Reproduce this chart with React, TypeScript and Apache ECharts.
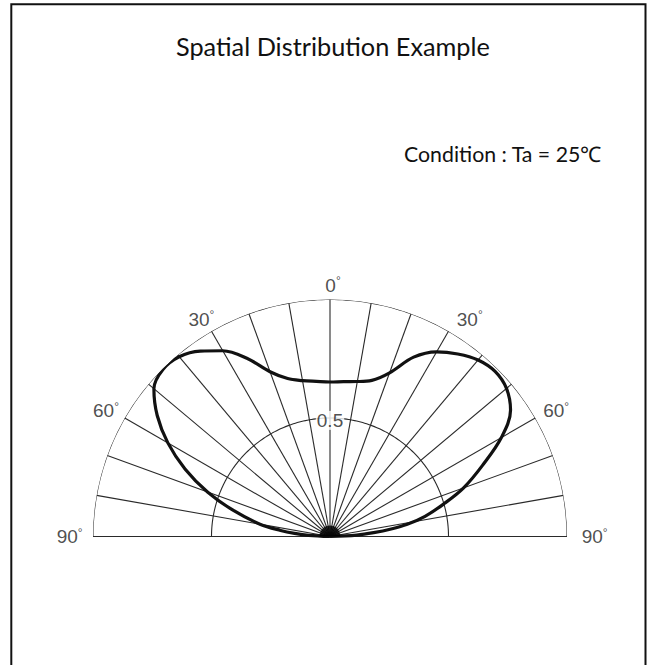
import React, { useEffect, useRef } from "react";
import * as echarts from "echarts";

// Relative luminous intensity vs. angle (degrees from axis; negative = left side)
const curveAngles = [
  -90, -87, -85, -83, -80, -75, -70, -65, -60, -55, -50, -45, -40, -35, -30, -25, -20, -15, -10, -5,
  0,
  5, 10, 15, 20, 25, 30, 35, 40, 45, 50, 55, 60, 65, 70, 74, 78, 81, 83, 85, 87, 90,
];
const curveIntensity = [
  0, 0.09, 0.15, 0.21, 0.3, 0.42, 0.55, 0.675, 0.79, 0.89, 0.97, 0.997, 0.99, 0.955, 0.905, 0.83, 0.74, 0.69, 0.668, 0.657,
  0.652,
  0.656, 0.664, 0.682, 0.735, 0.835, 0.9, 0.94, 0.972, 0.985, 0.972, 0.93, 0.835, 0.71, 0.6, 0.5, 0.41, 0.33, 0.26, 0.185, 0.113, 0,
];

// Grid definition
const spokeAngles = [-80, -70, -60, -50, -40, -30, -20, -10, 0, 10, 20, 30, 40, 50, 60, 70, 80];
const ringRadii = [0.5, 1];
const angleTickLabels = ["0", "30", "30", "60", "60", "90", "90"];
const radiusTickLabel = "0.5";

const titleText = "Spatial Distribution Example";
const conditionText = "Condition : Ta = 25\u2103";

// layout: label anchor positions in polar coords [radius, angle]
const labelAnchors: [number, number][] = [
  [1.061, 0],
  [1.072, -31.2],
  [1.083, 32.2],
  [1.095, -61],
  [1.081, 60.6],
  [1.111, -90],
  [1.104, 90],
];

const GRID_COLOR = "#2a2a2a";
const LABEL_COLOR = "#222";
const LABEL_FONT = "'Liberation Sans', Arial, sans-serif";
const TITLE_FONT = "'Lato', sans-serif";

export default function App() {
  const ref = useRef<HTMLDivElement>(null);

  useEffect(() => {
    if (!ref.current) return;
    const chart = echarts.init(ref.current, undefined, { renderer: "svg" });

    const arcSeries = ringRadii.map((r) => {
      const pts: [number, number][] = [];
      for (let a = -90; a <= 90; a += 1) pts.push([r, a]);
      return {
        type: "line",
        coordinateSystem: "polar",
        data: pts,
        symbol: "none",
        silent: true,
        lineStyle: { color: GRID_COLOR, width: 1.1 },
        z: 1,
      };
    });

    const spokeSeries = spokeAngles.map((a) => ({
      type: "line",
      coordinateSystem: "polar",
      data: [
        [0, a],
        [1, a],
      ],
      symbol: "none",
      silent: true,
      lineStyle: { color: GRID_COLOR, width: 1.1 },
      z: 1,
    }));

    const baseSeries = {
      type: "line",
      coordinateSystem: "polar",
      data: [
        [1, -90],
        [1, 90],
      ],
      symbol: "none",
      silent: true,
      lineStyle: { color: GRID_COLOR, width: 1.1 },
      z: 1,
    };

    const curveSeries = {
      type: "line",
      coordinateSystem: "polar",
      data: curveAngles.map((a, i) => [curveIntensity[i], a]),
      symbol: "none",
      smooth: 0.35,
      lineStyle: { color: "#111", width: 3.2 },
      z: 3,
    };

    const blobSeries = {
      type: "scatter",
      coordinateSystem: "polar",
      data: [[0, 0]],
      symbol: "path://M0,10A10,10,0,0,1,20,10Z",
      symbolSize: [21, 11],
      symbolOffset: [0, -5.5],
      itemStyle: { color: "#000" },
      silent: true,
      z: 4,
    };

    const angleLabelSeries = {
      type: "scatter",
      coordinateSystem: "polar",
      symbolSize: 0,
      silent: true,
      clip: false,
      z: 5,
      data: angleTickLabels.map((t, i) => ({
        value: labelAnchors[i],
        name: t,
      })),
      label: {
        show: true,
        position: "inside",
        offset: [3, 0],
        formatter: (p: any) => `{n|${p.name}}{d|\u00b0}`,
        rich: {
          n: { fontSize: 19, lineHeight: 20, color: LABEL_COLOR, fontFamily: LABEL_FONT },
          d: { fontSize: 12, lineHeight: 12, verticalAlign: "top", color: LABEL_COLOR, fontFamily: LABEL_FONT },
        },
      },
    };

    const radiusLabelSeries = {
      type: "scatter",
      coordinateSystem: "polar",
      symbolSize: 0,
      silent: true,
      clip: false,
      z: 5,
      data: [{ value: [0.49, 0], name: radiusTickLabel }],
      label: {
        show: true,
        position: "inside",
        formatter: (p: any) => p.name,
        fontSize: 19,
        color: LABEL_COLOR,
        fontFamily: LABEL_FONT,
        backgroundColor: "#fff",
        padding: [0, 1, 0, 1],
      },
    };

    chart.setOption({
      animation: false,
      backgroundColor: "#fff",
      title: [
        {
          text: titleText,
          left: 176,
          top: 33,
          padding: 0,
          textStyle: { fontFamily: TITLE_FONT, fontSize: 25.3, fontWeight: "normal", color: "#111" },
        },
        {
          text: conditionText,
          left: 404,
          top: 143,
          padding: 0,
          textStyle: { fontFamily: TITLE_FONT, fontSize: 21.3, fontWeight: "normal", color: "#111" },
        },
      ],
      polar: { center: [330, 536.5], radius: 237 },
      angleAxis: {
        type: "value",
        min: -180,
        max: 180,
        startAngle: 270,
        clockwise: true,
        show: false,
      },
      radiusAxis: { type: "value", min: 0, max: 1, show: false },
      graphic: [
        {
          type: "rect",
          shape: { x: 11.3, y: 4.3, width: 634.2, height: 720 },
          style: { fill: "none", stroke: "#111", lineWidth: 2 },
          silent: true,
          z: 100,
        },
      ],
      series: [...arcSeries, ...spokeSeries, baseSeries, curveSeries, blobSeries, angleLabelSeries, radiusLabelSeries],
    });

    return () => chart.dispose();
  }, []);

  return <div ref={ref} style={{ position: "absolute", left: 0, top: 0, width: 651, height: 665 }} />;
}
